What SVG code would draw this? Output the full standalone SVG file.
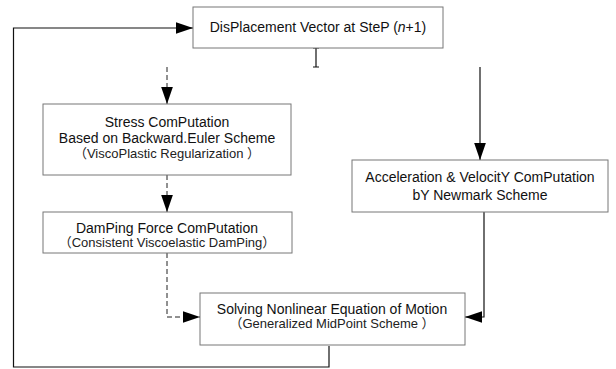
<svg xmlns="http://www.w3.org/2000/svg" width="616" height="369" viewBox="0 0 616 369">
<defs>
<style>
.box{fill:#fff;stroke:#777;stroke-width:1}
.c{fill:none;stroke:#111;stroke-width:1.2}
.d{fill:none;stroke:#222;stroke-width:1;stroke-dasharray:5 3}
text{font-family:"Liberation Sans","Noto Sans CJK SC",sans-serif;fill:#111;text-anchor:middle}
.t{font-size:14px}
.s{font-size:13px;fill:#222}
</style>
<marker id="ah" markerUnits="userSpaceOnUse" markerWidth="17" markerHeight="12" viewBox="0 0 16 11" refX="16" refY="5.5" orient="auto">
<path d="M0,0 L16,5.5 L0,11 z" fill="#000"/>
</marker>
</defs>
<rect width="616" height="369" fill="#fff"/>
<g id="connectors">
<path class="c" d="M329,346 V367 H13.5 V28 H193" marker-end="url(#ah)"/>
<path class="c" d="M316,48 V67 M313,48 H319 M313,67 H319"/>
<path class="d" d="M167,67 V104" marker-end="url(#ah)"/>
<path class="c" d="M480,67 V160" marker-end="url(#ah)"/>
<path class="d" d="M167,175 V212" marker-end="url(#ah)"/>
<path class="d" d="M167,253 V317 H200" marker-end="url(#ah)"/>
<path class="c" d="M484,212 V317 H465" marker-end="url(#ah)"/>
</g>
<g id="displacement">
<rect class="box" x="193" y="7" width="250" height="41"/>
<text class="t" x="318" y="32">DisPlacement Vector at SteP (<tspan font-style="italic">n</tspan>+1)</text>
</g>
<g id="stress">
<rect class="box" x="43" y="104" width="248" height="71"/>
<text class="t" x="167" y="127">Stress ComPutation</text>
<text class="t" x="167" y="143">Based on Backward.Euler Scheme</text>
<text class="s" x="167" y="158">（ViscoPlastic Regularization ）</text>
</g>
<g id="damping">
<rect class="box" x="43" y="212" width="249" height="41"/>
<text class="t" x="167" y="233">DamPing Force ComPutation</text>
<text class="s" x="167" y="247">（Consistent Viscoelastic DamPing）</text>
</g>
<g id="acceleration">
<rect class="box" x="352" y="160" width="256" height="52"/>
<text class="t" x="480" y="182">Acceleration &amp; VelocitY ComPutation</text>
<text class="t" x="480" y="200">bY Newmark Scheme</text>
</g>
<g id="solve">
<rect class="box" x="200" y="293" width="265" height="52"/>
<text class="t" x="332" y="314">Solving Nonlinear Equation of Motion</text>
<text class="s" x="332" y="328">（Generalized MidPoint Scheme ）</text>
</g>
</svg>
